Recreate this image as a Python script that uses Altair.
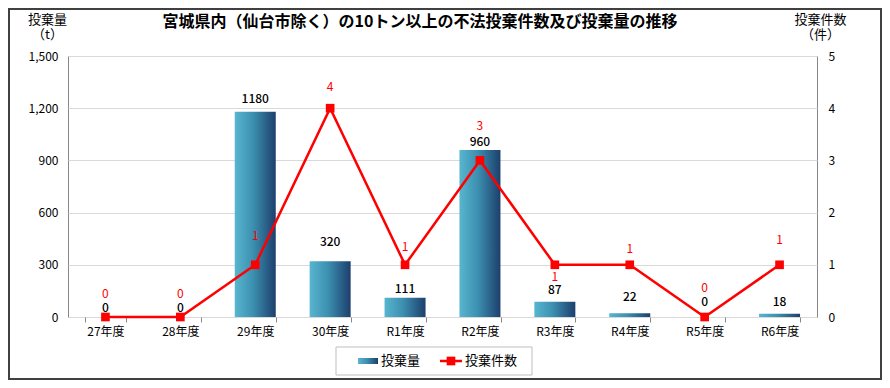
import altair as alt
import pandas as pd

# ---- data ----
categories = ["27年度", "28年度", "29年度", "30年度", "R1年度", "R2年度", "R3年度", "R4年度", "R5年度", "R6年度"]
amount_t = [0, 0, 1180, 320, 111, 960, 87, 22, 0, 18]
case_count = [0, 0, 1, 4, 1, 3, 1, 1, 0, 1]
amount_ticks = [0, 300, 600, 900, 1200, 1500]
count_ticks = [0, 1, 2, 3, 4, 5]

# label placement (styling, px; positive = up)
amount_label_lift = [9, 9, 13, 19, 9, 8, 12, 16, 15, 12]
count_label_lift = [23, 23, 29, 21, 18, 34, -12, 16, 29, 25]

title_text = "宮城県内（仙台市除く）の10トン以上の不法投棄件数及び投棄量の推移"
FONT = "Noto Sans CJK JP"

W, H = 749, 261
PAD = {"left": 60, "top": 48, "right": 65, "bottom": 63}
AMAX, CMAX = 1500, 5

df = pd.DataFrame({
    "cat": categories,
    "amount": amount_t,
    "count": case_count,
    "alift": amount_label_lift,
    "clift": count_label_lift,
})

bar_grad = alt.Gradient(
    gradient="linear",
    stops=[
        alt.GradientStop(color="#58b6cf", offset=0),
        alt.GradientStop(color="#3c8fb0", offset=0.45),
        alt.GradientStop(color="#1d3f6d", offset=1),
    ],
    x1=0, x2=1, y1=0, y2=0,
)

x_enc = alt.X(
    "cat:N", sort=categories, title=None,
    scale=alt.Scale(paddingInner=0.45, paddingOuter=0.225),
    axis=alt.Axis(labelAngle=0, labelFontSize=12, labelColor="#000", labelFont=FONT,
                  domain=False, ticks=True, tickBand="extent", tickSize=5,
                  tickColor="#888", labelPadding=4),
)

left_axis = alt.Axis(values=amount_ticks, labelExpr="format(datum.value, ',')", grid=True,
                     gridColor="#d9d9d9", domain=False, ticks=False, labelPadding=10,
                     labelFontSize=12, labelColor="#000", labelFont=FONT,
                     title=["投棄量", "（t）"], titleAngle=0, titleX=-21, titleY=-43,
                     titleAlign="center", titleBaseline="top", titleFontSize=13,
                     titleFontWeight="normal", titleFont=FONT, titleLineHeight=15,
                     titleColor="#000")
left_scale = alt.Scale(domain=[0, AMAX])

bars = alt.Chart(df).mark_bar(color=bar_grad, size=41).encode(
    x=x_enc, y=alt.Y("amount:Q", scale=left_scale, axis=left_axis)
)

bar_labels = alt.Chart(df).transform_calculate(
    ly=f"datum.amount + datum.alift * {AMAX} / {H}"
).mark_text(
    fontSize=12, font=FONT, color="#000", baseline="middle", fontWeight=500
).encode(
    x=alt.X("cat:N", sort=categories),
    y=alt.Y("ly:Q", scale=left_scale, axis=left_axis),
    text="amount:Q",
)

left_layer = alt.layer(bars, bar_labels)

right_axis = alt.Axis(orient="right", values=count_ticks, grid=False, domain=False,
                      ticks=False, labelPadding=11, labelFontSize=12, labelColor="#000",
                      labelFont=FONT,
                      title=["投棄件数", "（件）"], titleAngle=0, titleX=3, titleY=-43,
                      titleAlign="center", titleBaseline="top", titleFontSize=13,
                      titleFontWeight="normal", titleFont=FONT, titleLineHeight=15,
                      titleColor="#000")
right_scale = alt.Scale(domain=[0, CMAX])

line = alt.Chart(df).mark_line(color="#ff0000", strokeWidth=2.5).encode(
    x=alt.X("cat:N", sort=categories), y=alt.Y("count:Q", scale=right_scale, axis=right_axis)
)
pts = alt.Chart(df).mark_point(shape="square", filled=True, color="#ff0000", size=75, opacity=1).encode(
    x=alt.X("cat:N", sort=categories), y=alt.Y("count:Q", scale=right_scale, axis=right_axis)
)
cnt_labels = alt.Chart(df).transform_calculate(
    ly=f"datum.count + datum.clift * {CMAX} / {H}"
).mark_text(
    fontSize=12, font=FONT, color="#ff0000", baseline="middle"
).encode(
    x=alt.X("cat:N", sort=categories),
    y=alt.Y("ly:Q", scale=right_scale, axis=right_axis),
    text="count:Q",
)
right_layer = alt.layer(line, pts, cnt_labels)

# ---- decorations: title, legend, frame ----
one = pd.DataFrame({"t": [title_text]})
title_mark = alt.Chart(one).mark_text(
    fontSize=16, fontWeight="bold", font=FONT, color="#000", align="center", baseline="middle"
).encode(x=alt.value(352), y=alt.value(-34), text="t:N")

leg_box = alt.Chart(one).mark_rect(fill="white", stroke="#bfbfbf", strokeWidth=1).encode(
    x=alt.value(268), x2=alt.value(464), y=alt.value(291), y2=alt.value(319)
)
leg_swatch = alt.Chart(one).mark_rect(color=bar_grad).encode(
    x=alt.value(290), x2=alt.value(310), y=alt.value(302), y2=alt.value(308)
)
leg_line = alt.Chart(one).mark_rule(color="#ff0000", strokeWidth=2.5).encode(
    x=alt.value(372), x2=alt.value(394), y=alt.value(305)
)
leg_pt = alt.Chart(one).mark_point(shape="square", filled=True, color="#ff0000", size=75, opacity=1).encode(
    x=alt.value(383), y=alt.value(305)
)
leg_txt = alt.Chart(pd.DataFrame({"t": ["投棄量", "投棄件数"], "px": [313, 397]})).mark_text(
    fontSize=13, font=FONT, color="#000", align="left", baseline="middle"
).encode(x=alt.X("px:Q", scale=None), y=alt.value(305), text="t:N")

frame = alt.Chart(one).mark_rect(filled=False, stroke="#404040", strokeWidth=2).encode(
    x=alt.value(-59), x2=alt.value(813), y=alt.value(-47), y2=alt.value(323)
)

chart = alt.layer(
    left_layer, right_layer, title_mark, leg_box, leg_swatch, leg_line, leg_pt, leg_txt, frame
).resolve_scale(y="independent").properties(
    width=W, height=H, padding=PAD, autosize=alt.AutoSizeParams(type="none"),
    background="white",
).configure_view(stroke="#888888", strokeWidth=1)

chart.save("out.html", embed_options={"renderer": "svg", "actions": False})
